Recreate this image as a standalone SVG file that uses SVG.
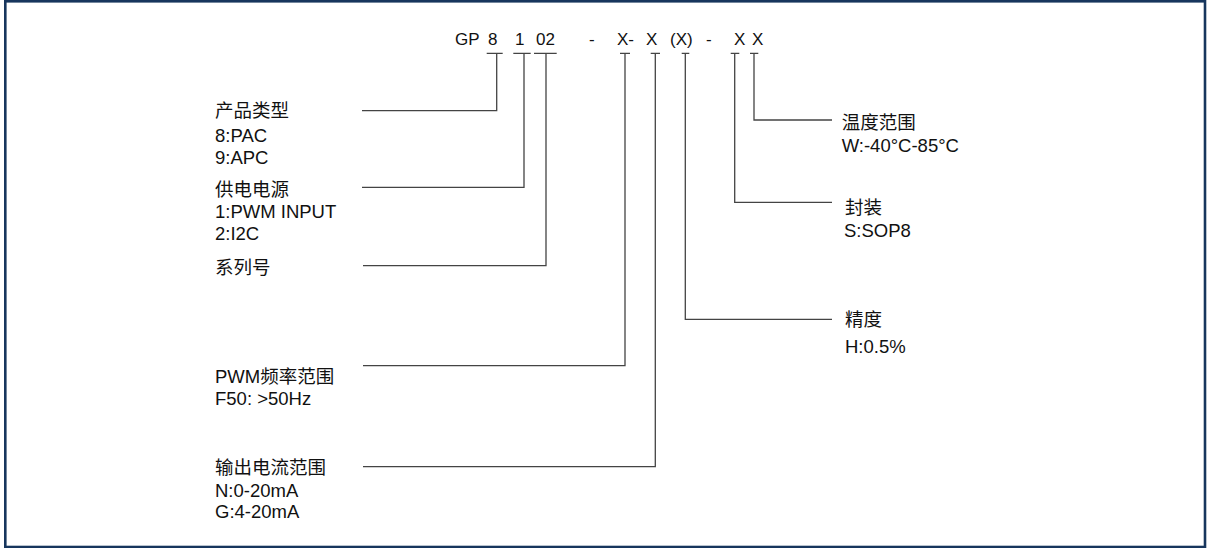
<svg xmlns="http://www.w3.org/2000/svg" width="1207" height="548" viewBox="0 0 1207 548">
<style>
.t{font-family:"Liberation Sans","Noto Sans CJK SC",Arial,sans-serif;font-size:18.5px;fill:#111}
.h{font-family:"Liberation Sans","Noto Sans CJK SC",Arial,sans-serif;font-size:17px;fill:#111}
.c{fill:none;stroke:#444;stroke-width:1.3}
</style>
<rect x="5.3" y="1.3" width="1199.7" height="545.7" fill="#fff" stroke="#17365d" stroke-width="2.6"/>
<g id="code">
<text class="h" x="455" y="45">GP</text>
<text class="h" x="488" y="45">8</text>
<text class="h" x="515" y="45">1</text>
<text class="h" x="536" y="45">02</text>
<text class="h" x="589" y="45">-</text>
<text class="h" x="617" y="45">X-</text>
<text class="h" x="646" y="45">X</text>
<text class="h" x="670" y="45">(X)</text>
<text class="h" x="706" y="45">-</text>
<text class="h" x="734" y="45">X</text>
<text class="h" x="752" y="45">X</text>
</g>
<g id="connectors">
<path class="c" d="M486.7 53.3H502.7M496.7 53.3V110.7H362"/>
<path class="c" d="M513.3 53.3H530.7M524 53.3V187.3H362"/>
<path class="c" d="M534 53.3H556.7M546 53.3V265.7H363"/>
<path class="c" d="M620 53.3H630M625 53.3V365.7H363"/>
<path class="c" d="M650.7 53.3H660M655.3 53.3V466.7H363"/>
<path class="c" d="M681.7 53.3H689.3M685.3 53.3V319.3H832"/>
<path class="c" d="M730.7 53.3H739.3M734.7 53.3V202.3H832"/>
<path class="c" d="M750 53.3H758.3M754 53.3V120H832"/>
</g>
<g id="n-type">
<text class="t" x="215" y="117">产品类型</text>
<text class="t" x="215" y="141.7">8:PAC</text>
<text class="t" x="215" y="164">9:APC</text>
</g>
<g id="n-power">
<text class="t" x="215" y="196">供电电源</text>
<text class="t" x="215" y="218.3">1:PWM INPUT</text>
<text class="t" x="215" y="240">2:I2C</text>
</g>
<g id="n-series">
<text class="t" x="215" y="274">系列号</text>
</g>
<g id="n-pwm">
<text class="t" x="215" y="383.3">PWM频率范围</text>
<text class="t" x="215" y="405">F50: &gt;50Hz</text>
</g>
<g id="n-output">
<text class="t" x="215" y="474">输出电流范围</text>
<text class="t" x="215" y="496.7">N:0-20mA</text>
<text class="t" x="215" y="518.3">G:4-20mA</text>
</g>
<g id="n-temp">
<text class="t" x="841.7" y="129">温度范围</text>
<text class="t" x="841.7" y="151.7">W:-40°C-85°C</text>
</g>
<g id="n-package">
<text class="t" x="845" y="214">封装</text>
<text class="t" x="844" y="236.7">S:SOP8</text>
</g>
<g id="n-accuracy">
<text class="t" x="845" y="326">精度</text>
<text class="t" x="845" y="353">H:0.5%</text>
</g>
</svg>
